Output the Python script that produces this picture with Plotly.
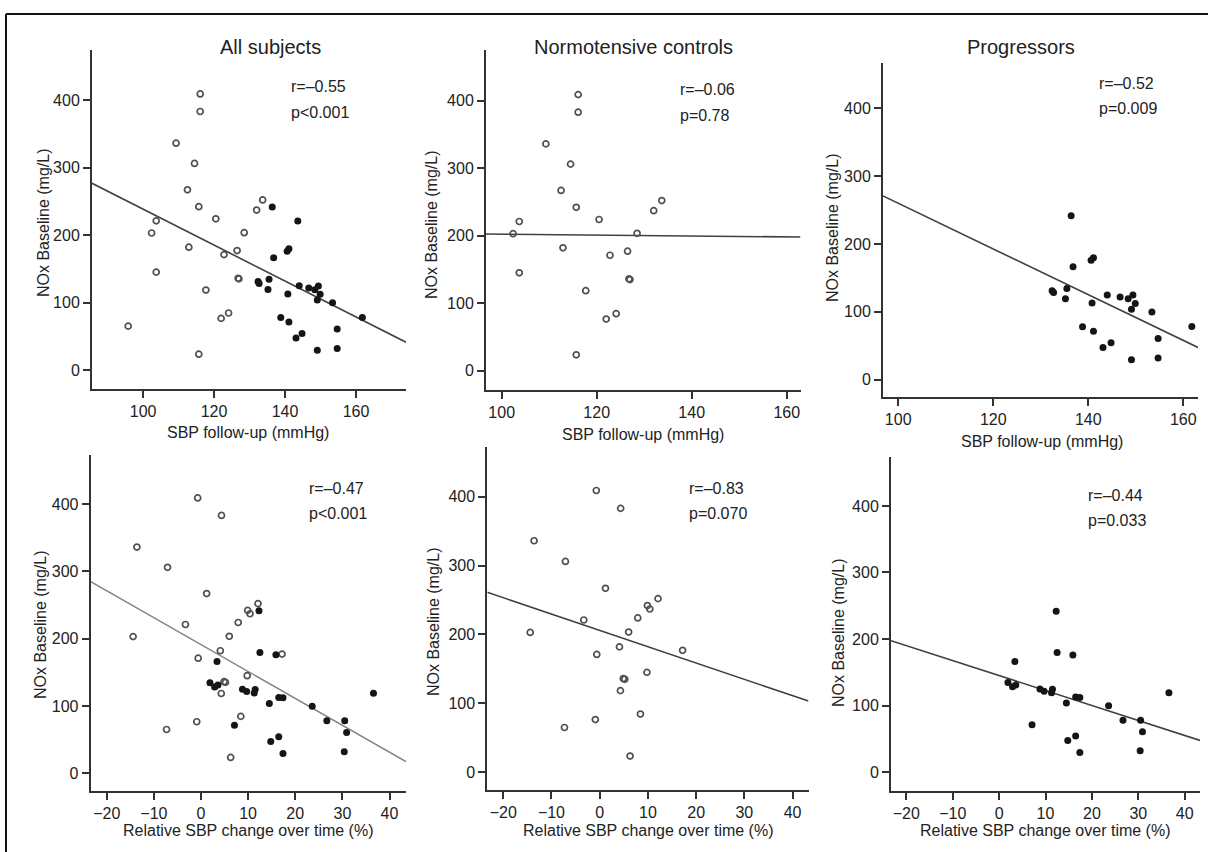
import plotly.graph_objects as go

# ---------------- data ----------------
group_titles = ["All subjects", "Normotensive controls", "Progressors"]
x_title_top = "SBP follow-up (mmHg)"
x_title_bottom = "Relative SBP change over time (%)"
y_title = "NOx Baseline (mg/L)"

# Normotensive controls (open circles)
norm_sbp = [116.1, 116.1, 109.3, 114.5, 112.5, 115.7, 102.4, 103.7, 103.7, 112.9, 120.5, 128.5,
            132.0, 133.7, 122.8, 126.5, 126.8, 127.0, 117.7, 122.0, 124.1, 95.8, 115.7]
norm_nox = [409, 383, 336, 306, 267, 242, 203, 221, 145, 182, 224, 203.5,
            237, 252, 171, 177, 136, 135, 118.5, 76.5, 84.5, 65, 23.5]
norm_change = [-0.7, 4.35, -13.6, -7.1, 1.2, 9.9, -14.4, -3.3, 9.8, 4.1, 7.9, 6.0,
               10.4, 12.1, -0.6, 17.2, 4.9, 5.2, 4.3, -0.9, 8.45, -7.3, 6.3]

# Progressors (filled dots)
prog_sbp = [136.4, 141.1, 140.6, 136.8, 132.4, 132.7, 135.5, 135.2, 140.8, 144.0, 146.7, 148.4,
            149.4, 149.9, 149.1, 153.4, 138.8, 141.1, 143.1, 144.8, 149.1, 154.7, 154.7, 161.8]
prog_nox = [241.6, 179.5, 176, 166.2, 131, 128.2, 134.4, 119.2, 112.7, 124.8, 121.6, 119,
            124.6, 112.2, 103.7, 99.6, 77.9, 71.2, 47.3, 54.2, 29.3, 60.6, 31.8, 78]
prog_change = [12.3, 12.5, 15.9, 3.4, 3.6, 2.9, 1.9, 11.3, 16.5, 8.8, 9.7, 36.6,
               11.5, 17.4, 14.5, 23.6, 26.7, 7.1, 14.8, 16.5, 17.4, 30.9, 30.4, 30.5]

# additional filled point shown only in the "All subjects" SBP panel
extra_sbp = [143.6]
extra_nox = [220.7]

# fitted regression lines (intercept, slope) per panel
fit_intercepts = [504.3, 209.1, 596.9, 191.2, 206.0, 145.0]
fit_slopes = [-2.66, -0.068, -3.37, -4.0, -2.37, -2.25]

r_labels = ["r=\u20130.55", "r=\u20130.06", "r=\u20130.52", "r=\u20130.47", "r=\u20130.83", "r=\u20130.44"]
p_labels = ["p<0.001", "p=0.78", "p=0.009", "p<0.001", "p=0.070", "p=0.033"]

sbp_ticks = [100, 120, 140, 160]
change_ticks = [-20, -10, 0, 10, 20, 30, 40]
nox_ticks = [0, 100, 200, 300, 400]

# ---------------- layout geometry (pixels) ----------------
W, H = 1208, 852
FONT = "Liberation Sans, Arial, sans-serif"
TXT = "#222222"
AX = "#333333"


def fx(p):
    return p / W


def fy(p):
    return 1 - p / H


panels = [
    dict(xd=(92, 406), yd=(50, 389), xr=(85.6, 174.1), yr=(-28.1, 474.1), xt=sbp_ticks,
         r=(289, 87), ytitle=(43, 223), xtitle=(248, 433)),
    dict(xd=(486, 800.5), yd=(50, 390), xr=(96.7, 162.9), yr=(-28.6, 475.1), xt=sbp_ticks,
         r=(678, 90), ytitle=(432, 225), xtitle=(643, 434)),
    dict(xd=(883, 1198), yd=(63, 397), xr=(96.8, 163.1), yr=(-25.8, 466.8), xt=sbp_ticks,
         r=(1097, 83), ytitle=(833, 228), xtitle=(1042, 441)),
    dict(xd=(90.7, 406), yd=(455, 790.5), xr=(-23.4, 43.5), yr=(-25.6, 472.8), xt=change_ticks,
         r=(307, 488), ytitle=(40, 625), xtitle=(248, 830)),
    dict(xd=(487.3, 808.5), yd=(447, 789.5), xr=(-23.3, 43.3), yr=(-25.0, 472.1), xt=change_ticks,
         r=(687, 488), ytitle=(433, 622), xtitle=(648, 830)),
    dict(xd=(891, 1200), yd=(457, 790.5), xr=(-23.3, 43.3), yr=(-27.8, 473.6), xt=change_ticks,
         r=(1086, 495), ytitle=(838, 633), xtitle=(1045, 830)),
]

# which series go in which panel
open_series = [(norm_sbp, norm_nox), (norm_sbp, norm_nox), None,
               (norm_change, norm_nox), (norm_change, norm_nox), None]
filled_series = [[(prog_sbp, prog_nox), (extra_sbp, extra_nox)], [], [(prog_sbp, prog_nox)],
                 [(prog_change, prog_nox)], [], [(prog_change, prog_nox)]]

fig = go.Figure()
layout = dict(
    width=W, height=H, autosize=False,
    margin=dict(l=0, r=0, t=0, b=0),
    paper_bgcolor="white", plot_bgcolor="white",
    showlegend=False,
    font=dict(family=FONT, size=16, color=TXT),
)
annotations = []

for i, pn in enumerate(panels):
    k = i + 1
    xa = "x" if k == 1 else f"x{k}"
    ya = "y" if k == 1 else f"y{k}"
    # regression line
    x0, x1 = pn["xr"]
    fig.add_trace(go.Scatter(
        x=[x0, x1], y=[fit_intercepts[i] + fit_slopes[i] * x0, fit_intercepts[i] + fit_slopes[i] * x1],
        mode="lines", line=dict(color="#808080" if k == 4 else "#404040", width=1.6 if k != 4 else 1.5),
        xaxis=xa, yaxis=ya, hoverinfo="skip"))
    if open_series[i] is not None:
        xs, ys = open_series[i]
        fig.add_trace(go.Scatter(
            x=xs, y=ys, mode="markers",
            marker=dict(symbol="circle-open", size=6, color="#505050", line=dict(width=1.7, color="#505050")),
            xaxis=xa, yaxis=ya))
    for xs, ys in filled_series[i]:
        fig.add_trace(go.Scatter(
            x=xs, y=ys, mode="markers",
            marker=dict(symbol="circle", size=7, color="#151515"),
            xaxis=xa, yaxis=ya))

    axis_common = dict(showline=True, linewidth=2, linecolor=AX, showgrid=False, zeroline=False,
                       ticks="outside", ticklen=7, tickwidth=1.6, tickcolor=AX,
                       tickfont=dict(family=FONT, size=16, color=TXT), fixedrange=True)
    layout["xaxis" if k == 1 else f"xaxis{k}"] = dict(
        domain=[fx(pn["xd"][0]), fx(pn["xd"][1])], range=list(pn["xr"]),
        anchor=ya, tickvals=pn["xt"], ticktext=[str(v).replace("-", "\u2212") for v in pn["xt"]],
        **axis_common)
    layout["yaxis" if k == 1 else f"yaxis{k}"] = dict(
        domain=[fy(pn["yd"][1]), fy(pn["yd"][0])], range=list(pn["yr"]),
        anchor=xa, tickvals=nox_ticks, **axis_common)

    rx, ry = pn["r"]
    annotations.append(dict(x=fx(rx), y=fy(ry), xref="paper", yref="paper", text=r_labels[i],
                            showarrow=False, xanchor="left", yanchor="middle",
                            font=dict(family=FONT, size=16, color=TXT)))
    annotations.append(dict(x=fx(rx), y=fy(ry + 25), xref="paper", yref="paper", text=p_labels[i],
                            showarrow=False, xanchor="left", yanchor="middle",
                            font=dict(family=FONT, size=16, color=TXT)))
    tx, ty = pn["ytitle"]
    annotations.append(dict(x=fx(tx), y=fy(ty), xref="paper", yref="paper", text=y_title,
                            showarrow=False, textangle=-90, xanchor="center", yanchor="middle",
                            font=dict(family=FONT, size=16, color=TXT)))
    xx, xy = pn["xtitle"]
    annotations.append(dict(x=fx(xx), y=fy(xy), xref="paper", yref="paper",
                            text=x_title_top if k <= 3 else x_title_bottom,
                            showarrow=False, xanchor="center", yanchor="middle",
                            font=dict(family=FONT, size=16, color=TXT)))

# column titles
for name, cx in zip(group_titles, [270, 633, 1021]):
    annotations.append(dict(x=fx(cx), y=fy(47), xref="paper", yref="paper", text=name,
                            showarrow=False, xanchor="center", yanchor="middle",
                            font=dict(family=FONT, size=20, color=TXT)))

layout["annotations"] = annotations
layout["shapes"] = [
    dict(type="line", xref="paper", yref="paper", x0=fx(6), x1=1.01, y0=fy(14), y1=fy(14),
         line=dict(color="#111111", width=2)),
    dict(type="line", xref="paper", yref="paper", x0=fx(6), x1=fx(6), y0=fy(14), y1=-0.01,
         line=dict(color="#111111", width=2)),
]
fig.update_layout(**layout)
fig.write_html(
    "out.html",
    config={"displayModeBar": False},
    post_script="document.body.style.margin='0';document.body.style.overflow='hidden';",
)
